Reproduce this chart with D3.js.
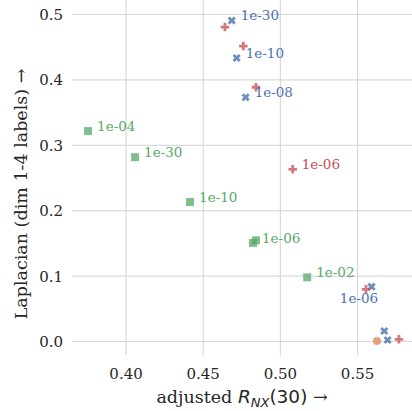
<!DOCTYPE html>
<html><head><meta charset="utf-8">
<script src="https://cdn.jsdelivr.net/npm/d3@7"></script>
<style>body{margin:0;background:#fff}svg{display:block}</style>
</head><body>
<script>
// ---- data ----
const xTicks = [0.40, 0.45, 0.50, 0.55];
const yTicks = [0.0, 0.1, 0.2, 0.3, 0.4, 0.5];

const blueX = [0.4688, 0.4720, 0.4778, 0.5594, 0.5676, 0.5698];
const blueY = [0.490, 0.4327, 0.3726, 0.0830, 0.0153, 0.0015];
const blueLabels = ["1e-30", "1e-10", "1e-08", "1e-06", "", ""];

const redX = [0.4644, 0.4763, 0.4845, 0.5083, 0.5558, 0.5771];
const redY = [0.480, 0.451, 0.388, 0.2625, 0.079, 0.0026];
const redLabels = ["", "", "", "1e-06", "", ""];

const greenX = [0.3757, 0.4062, 0.4418, 0.4826, 0.4845, 0.5177];
const greenY = [0.321, 0.281, 0.2125, 0.150, 0.154, 0.0974];
const greenLabels = ["1e-04", "1e-30", "1e-10", "1e-06", "", "1e-02"];

const orangeX = [0.5629];
const orangeY = [0.0];

// ---- layout ----
const W = 412, H = 411;
const L = 72, R = 412, T = 0, B = 355;
const FONT = "'DejaVu Serif', serif";

const svg = d3.select("body").append("svg").attr("width", W).attr("height", H)
  .style("font-family", FONT);

const x = d3.scaleLinear().domain([0.3653, 0.5856]).range([L, R]);
const y = d3.scaleLinear().domain([-0.0214, 0.5214]).range([B, T]);

// grid + tick labels via axes
const gx = svg.append("g").attr("transform", `translate(0,${B})`)
  .call(d3.axisBottom(x).tickValues(xTicks).tickFormat(d3.format(".2f"))
    .tickSizeInner(-(B - T)).tickSizeOuter(0).tickPadding(12));
const gy = svg.append("g").attr("transform", `translate(${L},0)`)
  .call(d3.axisLeft(y).tickValues(yTicks).tickFormat(d3.format(".1f"))
    .tickSizeInner(-(R - L)).tickSizeOuter(0).tickPadding(9));
[gx, gy].forEach(g => {
  g.select(".domain").remove();
  g.selectAll(".tick line").attr("stroke", "#d9d9d9").attr("stroke-width", 1.2);
  g.selectAll(".tick text").attr("fill", "#262626").style("font-size", "15px")
    .style("font-family", FONT);
});
gx.selectAll(".tick text").attr("dy", null).attr("y", 24);
gy.selectAll(".tick text").attr("dy", "0.36em");

const plot = svg.append("g");

function series(xs, ys) { return xs.map((v, i) => ({ x: v, y: ys[i] })); }

// green squares
plot.selectAll(".sq").data(series(greenX, greenY)).join("path")
  .attr("d", d3.symbol(d3.symbolSquare, 64))
  .attr("transform", d => `translate(${x(d.x)},${y(d.y)})`)
  .attr("fill", "#55a868").attr("fill-opacity", 0.75);

// orange circle
plot.selectAll(".ci").data(series(orangeX, orangeY)).join("path")
  .attr("d", d3.symbol(d3.symbolCircle, 52))
  .attr("transform", d => `translate(${x(d.x)},${y(d.y)})`)
  .attr("fill", "#dd8452").attr("fill-opacity", 0.75);

// blue X
plot.selectAll(".bx").data(series(blueX, blueY)).join("path")
  .attr("d", d3.symbol(d3.symbolCross, 42))
  .attr("transform", d => `translate(${x(d.x)},${y(d.y)}) rotate(45)`)
  .attr("fill", "#4c72b0").attr("fill-opacity", 0.8);

// red plus
plot.selectAll(".rp").data(series(redX, redY)).join("path")
  .attr("d", d3.symbol(d3.symbolCross, 40))
  .attr("transform", d => `translate(${x(d.x)},${y(d.y)})`)
  .attr("fill", "#c44e52").attr("fill-opacity", 0.75);

// annotations
function annotate(xs, ys, labels, color, special) {
  const data = xs.map((v, i) => ({ x: v, y: ys[i], t: labels[i], i }))
    .filter(d => d.t !== "");
  plot.selectAll(null).data(data).join("text")
    .attr("x", d => x(d.x) + ((special && special[d.i]) ? special[d.i][0] : 9))
    .attr("y", d => y(d.y) + ((special && special[d.i]) ? special[d.i][1] : -5))
    .attr("dy", "0.36em")
    .attr("fill", color).style("font-size", "13.5px")
    .text(d => d.t);
}
annotate(greenX, greenY, greenLabels, "#55a868");
annotate(redX, redY, redLabels, "#c44e52");
annotate(blueX, blueY, blueLabels, "#4c72b0", { 3: [-31.7, 11] });

// axis labels
const xl = svg.append("text").attr("x", (L + R) / 2).attr("y", 403)
  .attr("text-anchor", "middle").attr("fill", "#262626").style("font-size", "17.5px");
xl.append("tspan").text("adjusted ");
xl.append("tspan").style("font-family", "'DejaVu Sans'").style("font-style", "italic")
  .style("font-size", "18.5px").text("R");
xl.append("tspan").style("font-family", "'DejaVu Sans'").style("font-style", "italic")
  .style("font-size", "13px").attr("dy", 3.5).text("NX");
xl.append("tspan").style("font-family", "'DejaVu Sans'").style("font-size", "18.5px")
  .attr("dy", -3.5).text("(30)");
xl.append("tspan").text(" \u2192");

svg.append("text").attr("transform", `translate(27,194) rotate(-90)`)
  .attr("text-anchor", "middle").attr("fill", "#262626").style("font-size", "17.5px")
  .text("Laplacian (dim 1-4 labels) \u2192");
</script>
</body></html>
